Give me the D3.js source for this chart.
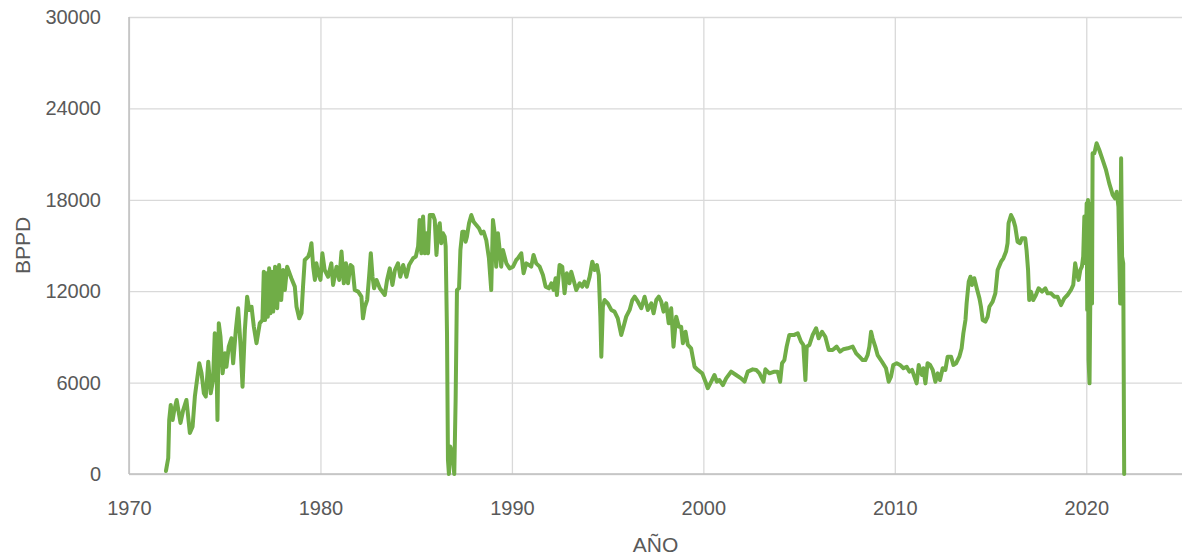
<!DOCTYPE html>
<html>
<head>
<meta charset="utf-8">
<script src="https://cdn.jsdelivr.net/npm/d3@7"></script>
<style>
  html, body { margin: 0; padding: 0; background: #ffffff; }
  svg { display: block; }
  text { font-family: "Liberation Sans", Arial, sans-serif; fill: #595959; }
</style>
</head>
<body>
<svg id="chart" width="1182" height="560"></svg>
<script>
// ---- data ----
const xTicks = [1970, 1980, 1990, 2000, 2010, 2020];
const yTicks = [0, 6000, 12000, 18000, 24000, 30000];
const xTitle = "AÑO";
const yTitle = "BPPD";

const years = [
1971.93,1972.05,1972.10,1972.18,1972.28,1972.35,1972.49,1972.69,1972.83,1973.00,
1973.18,1973.32,1973.44,1973.53,1973.67,1973.79,1973.91,1974.01,1974.14,1974.27,
1974.39,1974.48,1974.57,1974.62,1974.69,1974.78,1974.89,1975.01,1975.09,1975.21,
1975.35,1975.44,1975.58,1975.70,1975.83,1975.93,1976.05,1976.17,1976.28,1976.40,
1976.52,1976.66,1976.83,1976.97,1977.04,1977.11,1977.18,1977.25,1977.32,1977.39,
1977.46,1977.53,1977.63,1977.74,1977.84,1977.95,1978.05,1978.14,1978.26,1978.48,
1978.66,1978.75,1978.89,1979.01,1979.09,1979.18,1979.36,1979.45,1979.53,1979.62,
1979.71,1979.79,1979.88,1980.00,1980.10,1980.22,1980.40,1980.57,1980.66,1980.84,
1980.98,1981.10,1981.22,1981.33,1981.44,1981.57,1981.67,1981.79,1981.97,1982.14,
1982.22,1982.32,1982.44,1982.54,1982.63,1982.72,1982.80,1982.93,1983.10,1983.36,
1983.48,1983.62,1983.76,1983.89,1984.05,1984.17,1984.32,1984.49,1984.63,1984.84,
1984.98,1985.10,1985.18,1985.27,1985.36,1985.45,1985.53,1985.62,1985.71,1985.88,
1985.97,1986.06,1986.14,1986.23,1986.31,1986.40,1986.49,1986.54,1986.61,1986.66,
1986.71,1986.78,1986.89,1986.99,1987.06,1987.13,1987.24,1987.31,1987.41,1987.51,
1987.58,1987.65,1987.76,1987.88,1988.00,1988.14,1988.28,1988.40,1988.52,1988.66,
1988.80,1988.92,1989.01,1989.10,1989.18,1989.27,1989.36,1989.44,1989.53,1989.71,
1989.88,1990.06,1990.23,1990.31,1990.49,1990.61,1990.75,1990.89,1991.01,1991.13,
1991.27,1991.45,1991.62,1991.76,1991.93,1992.06,1992.18,1992.28,1992.35,1992.49,
1992.63,1992.75,1992.87,1993.01,1993.10,1993.22,1993.36,1993.54,1993.67,1993.79,
1993.92,1994.06,1994.20,1994.32,1994.44,1994.54,1994.62,1994.67,1994.75,1994.84,
1995.01,1995.19,1995.36,1995.53,1995.71,1995.83,1995.97,1996.15,1996.29,1996.41,
1996.58,1996.76,1996.93,1997.10,1997.28,1997.40,1997.54,1997.67,1997.80,1997.92,
1998.06,1998.19,1998.32,1998.44,1998.58,1998.72,1998.84,1998.93,1999.07,1999.19,
1999.36,1999.54,1999.71,1999.94,2000.11,2000.23,2000.41,2000.58,2000.70,2000.84,
2001.02,2001.19,2001.45,2001.71,2001.97,2002.15,2002.32,2002.58,2002.76,2002.93,
2003.14,2003.24,2003.45,2003.71,2003.88,2004.01,2004.11,2004.23,2004.35,2004.49,
2004.75,2004.93,2005.10,2005.22,2005.33,2005.40,2005.54,2005.71,2005.89,2006.02,
2006.20,2006.37,2006.55,2006.75,2006.96,2007.14,2007.31,2007.54,2007.80,2007.98,
2008.15,2008.32,2008.46,2008.58,2008.67,2008.76,2008.84,2008.98,2009.10,2009.33,
2009.54,2009.68,2009.80,2009.92,2010.10,2010.27,2010.45,2010.62,2010.76,2010.90,
2011.02,2011.14,2011.25,2011.32,2011.42,2011.49,2011.60,2011.71,2011.84,2011.98,
2012.12,2012.24,2012.36,2012.50,2012.64,2012.76,2012.94,2013.06,2013.20,2013.37,
2013.49,2013.58,2013.69,2013.75,2013.86,2013.95,2014.03,2014.15,2014.28,2014.42,
2014.50,2014.59,2014.73,2014.85,2014.94,2015.11,2015.25,2015.37,2015.55,2015.67,
2015.81,2015.89,2015.94,2016.07,2016.19,2016.29,2016.41,2016.54,2016.64,2016.81,
2016.88,2016.96,2017.02,2017.11,2017.23,2017.37,2017.51,2017.69,2017.86,2017.98,
2018.16,2018.33,2018.50,2018.68,2018.85,2019.02,2019.20,2019.32,2019.42,2019.51,
2019.60,2019.69,2019.77,2019.84,2019.90,2019.95,2020.02,2020.05,2020.09,2020.12,
2020.17,2020.22,2020.26,2020.30,2020.33,2020.42,2020.54,2020.68,2020.86,2021.03,
2021.20,2021.38,2021.50,2021.59,2021.68,2021.77,2021.82,2021.87,2021.93,2021.98
];

const bppd = [
200,1050,3550,4530,3550,4090,4860,3350,4200,4860,
2690,3100,5080,5950,7270,6610,5300,5080,7370,5300,
6170,9240,7480,3550,9890,9010,6610,7920,7040,8360,
8910,7270,9450,10880,8360,5730,9450,11640,10770,10980,
9670,8580,9890,10110,13280,10110,13180,10330,13500,10550,
13280,10660,13610,10880,13720,11420,13390,12080,13610,12850,
12300,10980,10220,10550,12300,14050,14270,14600,15150,13610,
12740,13830,13180,12740,14490,13390,12950,13830,12410,13610,
12740,14600,12520,13830,12520,13720,13610,12080,11970,11640,
10220,10980,11420,12950,14490,12950,12190,12740,12190,11750,
12740,13500,12410,13390,13830,12950,13720,12950,13720,14160,
14270,14930,16680,14490,16900,14490,15800,14490,17000,17000,
16680,14380,16020,16460,15150,15800,15580,14930,9240,920,
0,1800,1360,0,4860,12080,12190,14710,15910,15910,
15250,15580,16460,17000,16560,16350,16130,15800,15910,15360,
14160,12080,16680,15800,13610,15800,14710,13610,14710,13830,
13500,13610,14050,14160,14490,13180,13830,13720,13610,14380,
13830,13610,13060,12300,12190,12520,12080,12850,11750,13720,
13610,11860,13180,12520,13280,12740,12080,12520,12300,12630,
12300,12950,13940,13390,13720,13060,10330,7700,10980,11420,
11200,10770,10660,10220,9130,9670,10330,10770,11420,11640,
11310,10880,11640,10770,11200,10550,11420,11640,11310,10660,
11200,9890,10880,8360,10330,9670,9670,8580,9340,8470,
8250,7040,6830,6610,6060,5630,6060,6500,6060,6170,
5840,6280,6720,6500,6280,6060,6720,6870,6830,6610,
6060,6870,6610,6720,6720,6060,7270,7480,8360,9130,
9130,9240,8690,8470,6170,8360,8470,9130,9570,8910,
9340,9010,8140,8140,8360,8030,8190,8250,8360,7920,
7700,7480,7480,7810,8360,9340,8910,8360,7810,7370,
6940,6060,6390,7160,7270,7160,6940,7040,6720,6830,
6390,5950,7160,6830,6500,6940,5950,7270,7160,6830,
6060,6610,6170,6940,6830,7700,7700,7160,7270,7700,
8250,9240,10110,11200,12630,12950,12410,12850,12190,11530,
10980,10110,10000,10330,10980,11310,11860,13390,13940,14160,
14600,15150,16460,17000,16680,16240,15250,15150,15470,15470,
14710,13390,11420,11970,11420,11750,12190,11970,12190,11860,
11860,11640,11640,11090,11530,11750,12080,12410,13830,13180,
12740,13390,13610,14270,16900,13830,17770,10770,17990,7480,
5950,12740,17770,11200,21050,21050,21710,21270,20610,19960,
19080,18320,18100,18530,17550,11200,20720,14270,13830,0
];

// ---- layout ----
const plotL = 129, plotR = 1182, plotT = 17, plotB = 474;

const svg = d3.select("#chart");

const x = d3.scaleLinear().domain([1970, 2025]).range([plotL, plotR]);
const y = d3.scaleLinear().domain([0, 30000]).range([plotB, plotT]);

// horizontal gridlines + y labels
const yAxis = svg.append("g")
  .attr("transform", `translate(${plotL},0)`)
  .call(d3.axisLeft(y).tickValues(yTicks).tickSize(-(plotR - plotL)).tickPadding(28).tickFormat(d3.format("d")));
yAxis.select(".domain").remove();
yAxis.selectAll(".tick line").attr("stroke", "#d9d9d9").attr("stroke-width", 1.3);
yAxis.selectAll(".tick text").attr("font-size", 20).attr("fill", "#595959")
  .attr("font-family", "'Liberation Sans', Arial, sans-serif");

// vertical gridlines + x labels
const xAxis = svg.append("g")
  .attr("transform", `translate(0,${plotB})`)
  .call(d3.axisBottom(x).tickValues(xTicks).tickSize(-(plotB - plotT)).tickPadding(27).tickFormat(d3.format("d")));
xAxis.select(".domain").remove();
xAxis.selectAll(".tick line").attr("stroke", "#d9d9d9").attr("stroke-width", 1.3);
xAxis.selectAll(".tick text").attr("font-size", 20).attr("fill", "#595959")
  .attr("font-family", "'Liberation Sans', Arial, sans-serif");

// axis lines
svg.append("line").attr("x1", plotL).attr("x2", plotR).attr("y1", y(0)).attr("y2", y(0))
  .attr("stroke", "#bfbfbf").attr("stroke-width", 1.5);
svg.append("line").attr("x1", x(1970)).attr("x2", x(1970)).attr("y1", y(30000)).attr("y2", y(0))
  .attr("stroke", "#bfbfbf").attr("stroke-width", 1.5);

// series line
const pts = years.map((yr, i) => [yr, bppd[i]]);
const line = d3.line().x(d => x(d[0])).y(d => y(d[1]));
svg.append("path")
  .datum(pts)
  .attr("d", line)
  .attr("fill", "none")
  .attr("stroke", "#70ad47")
  .attr("stroke-width", 4)
  .attr("stroke-linejoin", "round")
  .attr("stroke-linecap", "round");

// titles
svg.append("text")
  .attr("x", (plotL + plotR) / 2).attr("y", 552)
  .attr("text-anchor", "middle").attr("font-size", 21)
  .text(xTitle);
svg.append("text")
  .attr("transform", `translate(30,${(plotT + plotB) / 2}) rotate(-90)`)
  .attr("text-anchor", "middle").attr("font-size", 21)
  .text(yTitle);
</script>
</body>
</html>
